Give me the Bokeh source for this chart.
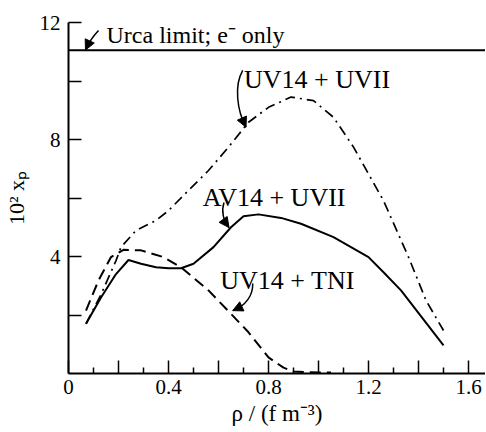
import math
from bokeh.plotting import figure
from bokeh.models import (Span, Label, Arrow, NormalHead, FixedTicker,
                          CustomJSTickFormatter, Range1d)
from bokeh.embed import file_html
from bokeh.resources import INLINE

# ---------------- data ----------------
urca_limit = 11.05

av14_uvii_rho = [0.07, 0.13, 0.19, 0.24, 0.29, 0.35, 0.40, 0.45, 0.50, 0.58,
                 0.65, 0.70, 0.76, 0.85, 0.93, 1.06, 1.20, 1.26, 1.33, 1.50]
av14_uvii_xp = [1.70, 2.60, 3.40, 3.88, 3.75, 3.63, 3.60, 3.60, 3.75, 4.32,
                5.00, 5.38, 5.44, 5.32, 5.12, 4.66, 3.98, 3.46, 2.84, 0.96]

uv14_tni_rho = [0.07, 0.12, 0.17, 0.22, 0.29, 0.38, 0.45, 0.56, 0.65, 0.72,
                0.80, 0.86, 0.90, 0.95, 1.05]
uv14_tni_xp = [2.15, 3.18, 3.98, 4.23, 4.21, 3.98, 3.63, 2.84, 2.04, 1.41,
               0.55, 0.20, 0.07, 0.05, 0.03]

uv14_uvii_rho = [0.07, 0.13, 0.19, 0.21, 0.27, 0.35, 0.40, 0.48, 0.56, 0.64,
                 0.72, 0.80, 0.89, 0.98, 1.06, 1.14, 1.26, 1.36, 1.43, 1.50]
uv14_uvii_xp = [1.70, 2.70, 3.86, 4.32, 4.89, 5.23, 5.57, 6.26, 6.94, 7.74,
                8.59, 9.10, 9.45, 9.33, 8.76, 7.74, 5.91, 3.98, 2.50, 1.47]

x_ticks = [0.0, 0.2, 0.4, 0.6, 0.8, 1.0, 1.2, 1.4, 1.6]
x_minor = [0.1, 0.3, 0.5, 0.7, 0.9, 1.1, 1.3, 1.5]
y_ticks = [2, 4, 6, 8, 10, 12]

x_title = "\u03c1 / (f m\u207b\u00b3)"
y_title = "10\u00b2 x\u209a"

# ---------------- figure ----------------
SERIF = "Liberation Serif"

p = figure(width=485, height=430, x_range=Range1d(0, 1.668), y_range=Range1d(0, 12),
           output_backend="svg", toolbar_location=None,
           min_border_left=67, min_border_top=22, min_border_right=0,
           min_border_bottom=57)
p.outline_line_color = None
p.grid.visible = False
p.background_fill_color = "white"
p.border_fill_color = "white"

# axes
p.xaxis.ticker = FixedTicker(ticks=x_ticks, minor_ticks=x_minor)
p.xaxis.formatter = CustomJSTickFormatter(code="""
    const r = tick / 0.4;
    if (Math.abs(r - Math.round(r)) > 1e-6) return '';
    if (Math.abs(tick) < 1e-9) return '0';
    return tick.toFixed(1);
""")
p.yaxis.ticker = FixedTicker(ticks=y_ticks, minor_ticks=[])
p.yaxis.formatter = CustomJSTickFormatter(code="""
    return (Math.round(tick) % 4 === 0) ? String(Math.round(tick)) : '';
""")
for ax in (p.xaxis, p.yaxis):
    ax.axis_line_width = 2
    ax.axis_line_color = "black"
    ax.major_tick_in = 13
    ax.major_tick_out = 0
    ax.major_tick_line_width = 1.5
    ax.major_tick_line_color = "black"
    ax.minor_tick_in = 6
    ax.minor_tick_out = 0
    ax.minor_tick_line_width = 1.5
    ax.minor_tick_line_color = "black"
    ax.major_label_text_font = SERIF
    ax.major_label_text_font_size = "21px"
    ax.major_label_text_color = "black"
    ax.axis_label_text_font = SERIF
    ax.axis_label_text_font_style = "normal"
    ax.axis_label_text_color = "black"
p.xaxis.major_label_standoff = 6
p.yaxis.major_label_standoff = 8
p.xaxis.axis_label = x_title
p.xaxis.axis_label_text_font_size = "23px"
p.xaxis.axis_label_standoff = 4
p.yaxis.axis_label = y_title
p.yaxis.axis_label_text_font_size = "22px"
p.yaxis.axis_label_standoff = 8

# curves
p.add_layout(Span(location=urca_limit, dimension="width", line_color="black",
                  line_width=2))
p.line(av14_uvii_rho, av14_uvii_xp, line_color="black", line_width=2)
p.line(uv14_tni_rho, uv14_tni_xp, line_color="black", line_width=2,
       line_dash="11 6")
p.line(uv14_uvii_rho, uv14_uvii_xp, line_color="black", line_width=1.7,
       line_dash="10 5 2 5")

# curve labels: (text, x, y, font size)
labels = [
    ("Urca limit; e\u207b only", 0.152, 11.56, "24px"),
    ("UV14 + UVII", 0.702, 10.05, "26px"),
    ("AV14 + UVII", 0.537, 6.03, "26px"),
    ("UV14 + TNI", 0.607, 3.18, "26px"),
]
for txt, lx, ly, fs in labels:
    p.add_layout(Label(x=lx, y=ly, text=txt, text_font=SERIF,
                       text_font_size=fs, text_color="black",
                       text_align="left", text_baseline="alphabetic"))

# curved pointer arrows: (x0, y0, cx0, cy0, cx1, cy1, x1, y1)
arrows = [
    (0.120, 11.73, 0.100, 11.55, 0.080, 11.30, 0.068, 11.06),
    (0.697, 10.36, 0.662, 9.85, 0.674, 8.99, 0.710, 8.42),
    (0.622, 5.85, 0.611, 5.57, 0.618, 5.23, 0.642, 4.99),
    (0.737, 3.08, 0.738, 2.67, 0.710, 2.32, 0.657, 2.15),
]
for a in arrows:
    x0, y0, cx0, cy0, cx1, cy1, x1, y1 = a
    p.bezier(x0=[x0], y0=[y0], x1=[x1], y1=[y1], cx0=[cx0], cy0=[cy0],
             cx1=[cx1], cy1=[cy1], line_color="black", line_width=1.5)
    t = 0.85
    bx = ((1 - t) ** 3 * x0 + 3 * (1 - t) ** 2 * t * cx0
          + 3 * (1 - t) * t ** 2 * cx1 + t ** 3 * x1)
    by = ((1 - t) ** 3 * y0 + 3 * (1 - t) ** 2 * t * cy0
          + 3 * (1 - t) * t ** 2 * cy1 + t ** 3 * y1)
    p.add_layout(Arrow(end=NormalHead(size=10, fill_color="black",
                                      line_color="black", line_width=1),
                       x_start=bx, y_start=by, x_end=x1, y_end=y1,
                       line_color="black", line_width=1.5))

open("out.html", "w").write(file_html(p, INLINE))
